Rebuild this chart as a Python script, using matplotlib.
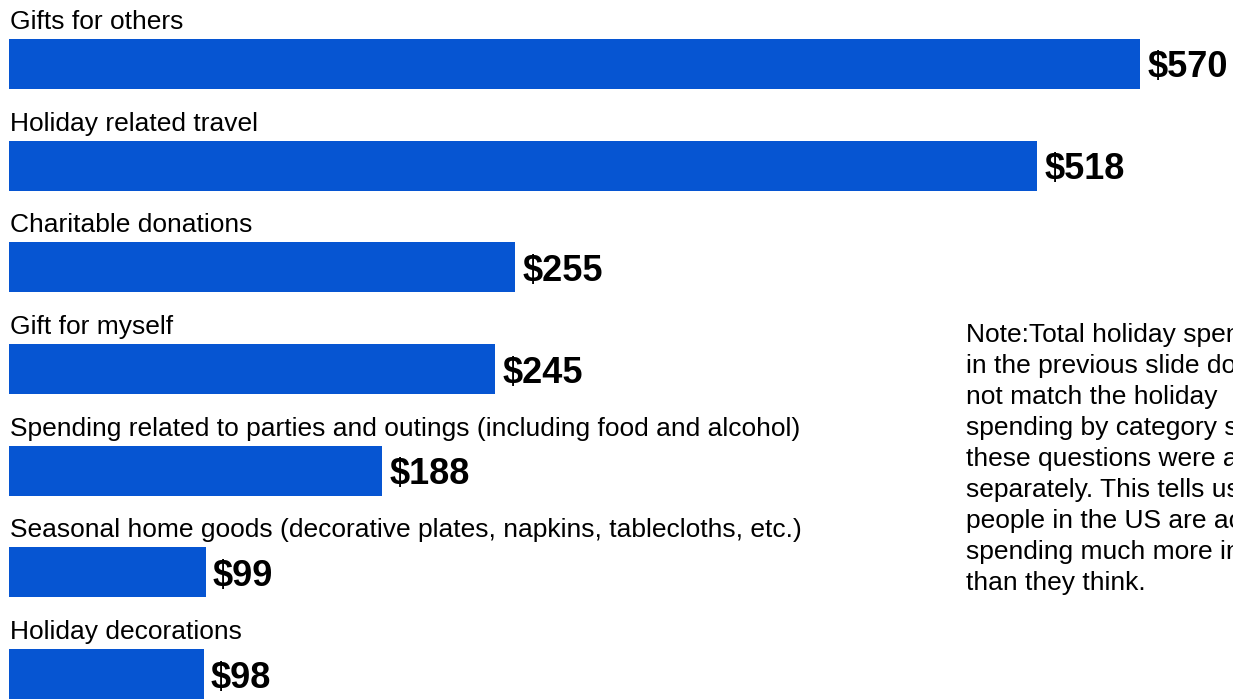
import matplotlib.pyplot as plt

plt.rcParams['font.family'] = ['Liberation Sans', 'DejaVu Sans']

categories = [
    "Gifts for others",
    "Holiday related travel",
    "Charitable donations",
    "Gift for myself",
    "Spending related to parties and outings (including food and alcohol)",
    "Seasonal home goods (decorative plates, napkins, tablecloths, etc.)",
    "Holiday decorations",
]
values = [570, 518, 255, 245, 188, 99, 98]
value_labels = ["$570", "$518", "$255", "$245", "$188", "$99", "$98"]

note = ("Note:Total holiday spending\n"
        "in the previous slide does\n"
        "not match the holiday\n"
        "spending by category since\n"
        "these questions were asked\n"
        "separately. This tells us\n"
        "people in the US are actually\n"
        "spending much more in reality\n"
        "than they think.")

BAR_COLOR = "#0655D2"

W, H = 1233, 699
fig = plt.figure(figsize=(W / 100, H / 100), dpi=100)
ax = fig.add_axes([0, 0, 1, 1])

px_per_unit = 1.985     # horizontal scale
x0_px = 9               # left edge of bars
row_px = 101.67         # distance between rows
first_center_px = 64

ax.set_xlim(-x0_px / px_per_unit, (W - x0_px) / px_per_unit)
ax.set_ylim((H - first_center_px) / row_px, -first_center_px / row_px)
ax.axis("off")

pos = list(range(len(values)))
bar_h = 50 / row_px
ax.barh(pos, values, height=bar_h, color=BAR_COLOR, edgecolor="none")

for i, (cat, v, lab) in enumerate(zip(categories, values, value_labels)):
    ax.text(0.5, i - bar_h / 2 - 10 / row_px, cat, fontsize=19,
            ha="left", va="baseline", color="black")
    ax.text(v + 7 / px_per_unit, i + 4 / row_px, lab, fontsize=26,
            fontweight="bold", ha="left", va="center", color="black")

fig.text(966 / W, 1 - 323 / H, note, fontsize=19, ha="left", va="top",
         linespacing=1.37, color="black")

fig.savefig("out.png", dpi=100)
